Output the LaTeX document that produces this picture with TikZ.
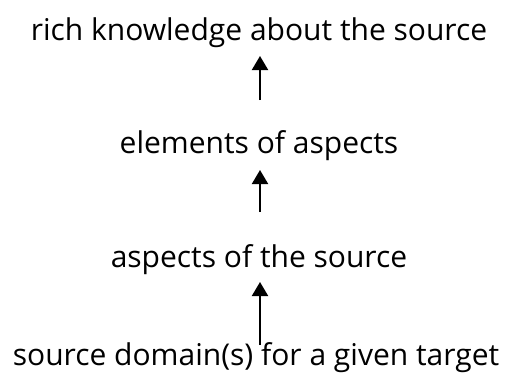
\documentclass[tikz,border=0pt]{standalone}
\usepackage{fontspec}
\setmainfont{Open Sans}
\usetikzlibrary{arrows.meta}
\begin{document}
\begin{tikzpicture}[x=1pt,y=-1pt,
  lbl/.style={anchor=base,inner sep=0pt,font=\fontsize{30}{34}\selectfont},
  arr/.style={line width=2pt,-{Triangle[length=14pt,width=16pt]}}]
\useasboundingbox (0,0) rectangle (508,380);
\node[lbl] (t1) at (259,40) {rich knowledge about the source};
\node[lbl] (t2) at (259,153) {elements of aspects};
\node[lbl] (t3) at (259,267) {aspects of the source};
\node[lbl] (t4) at (256,365) {source domain(s) for a given target};
\coordinate (a1s) at (260,100); \coordinate (a1e) at (260,56);
\coordinate (a2s) at (260,212); \coordinate (a2e) at (260,170);
\coordinate (a3s) at (260,345); \coordinate (a3e) at (260,282);
\draw[arr] (a1s) -- (a1e);
\draw[arr] (a2s) -- (a2e);
\draw[arr] (a3s) -- (a3e);
\end{tikzpicture}
\end{document}
